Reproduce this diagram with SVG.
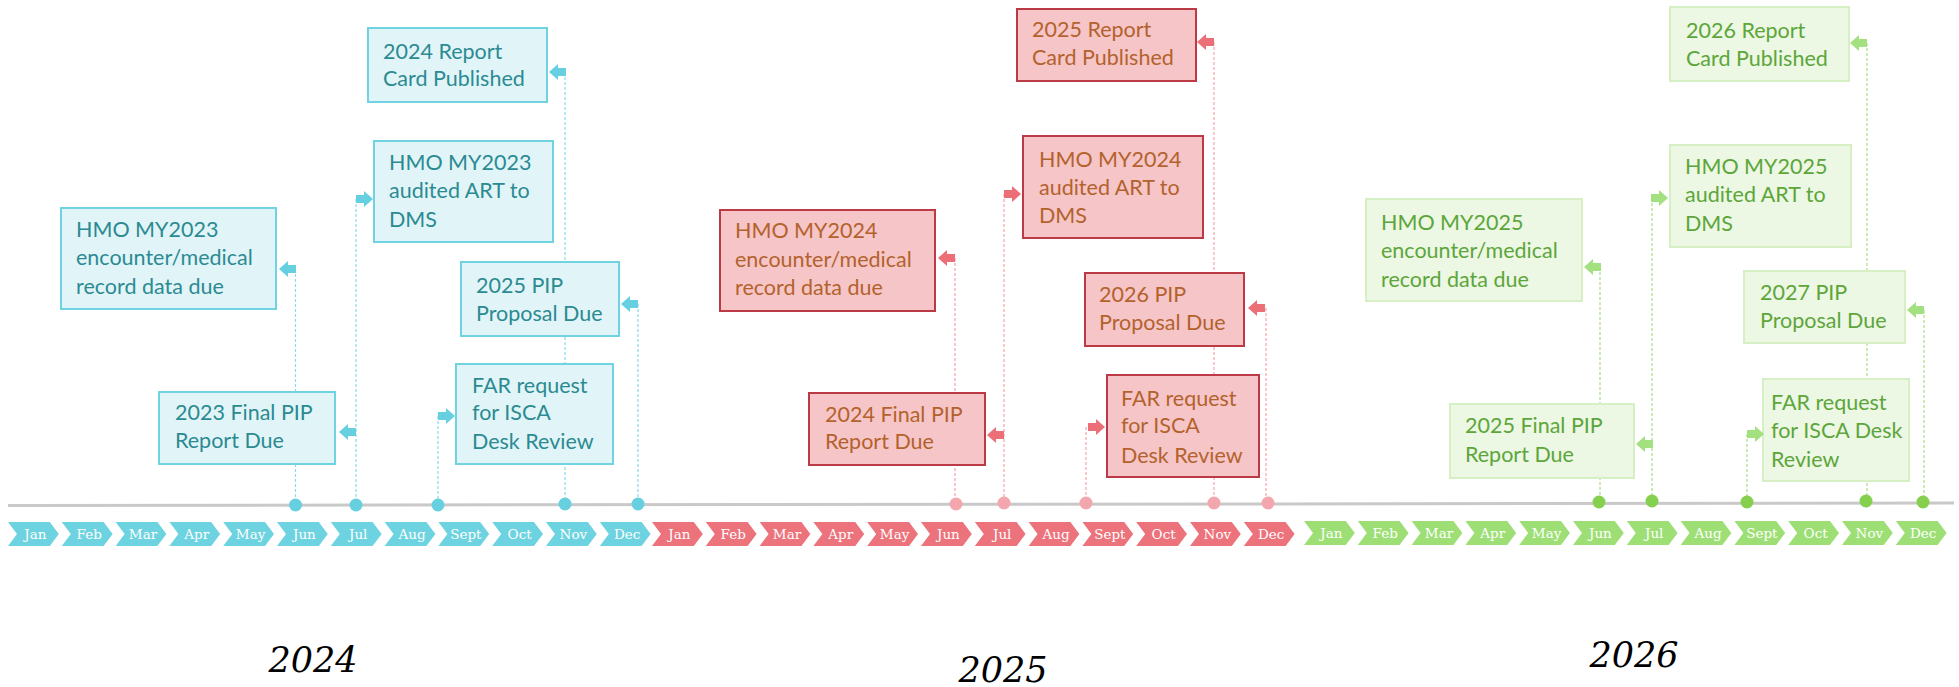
<svg xmlns="http://www.w3.org/2000/svg" xmlns:xlink="http://www.w3.org/1999/xlink" width="1959" height="687" viewBox="0 0 1959 687">
<style>
.bx text{font-family:Lato,"Open Sans","Liberation Sans",sans-serif;font-size:21.5px}
.t rect{fill:#e1f5f8;stroke:#6fd3e1;stroke-width:2}
.t text{fill:#2b8a92}
.r rect{fill:#f6c5c8;stroke:#bb3a45;stroke-width:2}
.r text{fill:#b3622c}
.g rect{fill:#ecf7e4;stroke:#d6efc5;stroke-width:2}
.g text{fill:#5ca63a}
.dl{stroke-width:1.2;stroke-dasharray:3 2;fill:none}
.dT{stroke:#8adbe6}.dR{stroke:#f2a3ab}.dG{stroke:#a8dc86}
.aT{fill:#66d0e0}.aR{fill:#ec6f78}.aG{fill:#a3e07f}
.cT{fill:#6dd3e0}.cR{fill:#ec737b}.cG{fill:#9ddf75}
.oT{fill:#66d0e0}.oR{fill:#f3a6ad}.oG{fill:#86d04f}
.mo{font-family:"DejaVu Serif","Liberation Serif",serif;font-size:13.5px;fill:#fff;text-anchor:middle}
.yr{font-family:"DejaVu Serif","Liberation Serif",serif;font-style:italic;font-size:35px;fill:#000;text-anchor:middle}
</style>
<defs>
<path id="arL" d="M0,0 L9,-8 L9,-4 L17,-4 L17,4 L9,4 L9,8 Z"/>
<path id="arR" d="M0,0 L-9,-8 L-9,-4 L-17,-4 L-17,4 L-9,4 L-9,8 Z"/>
<polygon id="chev" points="0,0 41.8,0 50.8,12 41.8,24 0,24 9,12"/>
</defs>

<g id="connectors">
  <line class="dl dT" x1="295.5" y1="269" x2="295.5" y2="505"/>
  <line class="dl dT" x1="356" y1="199" x2="356" y2="505"/>
  <line class="dl dT" x1="438" y1="416" x2="438" y2="505"/>
  <line class="dl dT" x1="565" y1="72" x2="565" y2="505"/>
  <line class="dl dT" x1="638" y1="304" x2="638" y2="505"/>
  <line class="dl dR" x1="955" y1="258" x2="955" y2="504"/>
  <line class="dl dR" x1="1004" y1="194" x2="1004" y2="504"/>
  <line class="dl dR" x1="1086" y1="427" x2="1086" y2="504"/>
  <line class="dl dR" x1="1214" y1="42" x2="1214" y2="504"/>
  <line class="dl dR" x1="1266" y1="308" x2="1266" y2="504"/>
  <line class="dl dG" x1="1600" y1="267" x2="1600" y2="503"/>
  <line class="dl dG" x1="1652" y1="198" x2="1652" y2="503"/>
  <line class="dl dG" x1="1747" y1="434" x2="1747" y2="503"/>
  <line class="dl dG" x1="1867" y1="43" x2="1867" y2="503"/>
  <line class="dl dG" x1="1924" y1="310" x2="1924" y2="503"/>
</g>

<g id="timeline">
  <line x1="8" y1="505.5" x2="1954" y2="503" stroke="#c9c9c9" stroke-width="3"/>
</g>

<g id="n2024-enc" class="bx t"><rect x="61" y="208" width="215" height="101"/><text x="76" y="237">HMO MY2023</text><text x="76" y="265">encounter/medical</text><text x="76" y="294">record data due</text></g>
<g id="n2024-report" class="bx t"><rect x="368" y="28" width="179" height="74"/><text x="383" y="59">2024 Report</text><text x="383" y="86">Card Published</text></g>
<g id="n2024-art" class="bx t"><rect x="374" y="141" width="179" height="101"/><text x="389" y="170">HMO MY2023</text><text x="389" y="198">audited ART to</text><text x="389" y="227">DMS</text></g>
<g id="n2024-pip" class="bx t"><rect x="461" y="262" width="158" height="74"/><text x="476" y="293">2025 PIP</text><text x="476" y="321">Proposal Due</text></g>
<g id="n2024-final" class="bx t"><rect x="159" y="392" width="176" height="72"/><text x="175" y="420">2023 Final PIP</text><text x="175" y="448">Report Due</text></g>
<g id="n2024-far" class="bx t"><rect x="456" y="364" width="157" height="100"/><text x="472" y="393">FAR request</text><text x="472" y="420">for ISCA</text><text x="472" y="449">Desk Review</text></g>

<g id="n2025-report" class="bx r"><rect x="1017" y="9" width="179" height="72"/><text x="1032" y="37">2025 Report</text><text x="1032" y="65">Card Published</text></g>
<g id="n2025-art" class="bx r"><rect x="1023" y="136" width="180" height="102"/><text x="1039" y="167">HMO MY2024</text><text x="1039" y="195">audited ART to</text><text x="1039" y="223">DMS</text></g>
<g id="n2025-enc" class="bx r"><rect x="720" y="210" width="215" height="101"/><text x="735" y="238">HMO MY2024</text><text x="735" y="267">encounter/medical</text><text x="735" y="295">record data due</text></g>
<g id="n2025-pip" class="bx r"><rect x="1085" y="273" width="159" height="73"/><text x="1099" y="302">2026 PIP</text><text x="1099" y="330">Proposal Due</text></g>
<g id="n2025-final" class="bx r"><rect x="809" y="393" width="176" height="72"/><text x="825" y="422">2024 Final PIP</text><text x="825" y="449">Report Due</text></g>
<g id="n2025-far" class="bx r"><rect x="1107" y="375" width="152" height="102"/><text x="1121" y="406">FAR request</text><text x="1121" y="433">for ISCA</text><text x="1121" y="463">Desk Review</text></g>

<g id="n2026-report" class="bx g"><rect x="1670" y="7" width="179" height="74"/><text x="1686" y="38">2026 Report</text><text x="1686" y="66">Card Published</text></g>
<g id="n2026-art" class="bx g"><rect x="1670" y="145" width="181" height="102"/><text x="1685" y="174">HMO MY2025</text><text x="1685" y="202">audited ART to</text><text x="1685" y="231">DMS</text></g>
<g id="n2026-enc" class="bx g"><rect x="1366" y="199" width="216" height="102"/><text x="1381" y="230">HMO MY2025</text><text x="1381" y="258">encounter/medical</text><text x="1381" y="287">record data due</text></g>
<g id="n2026-pip" class="bx g"><rect x="1744" y="271" width="161" height="72"/><text x="1760" y="300">2027 PIP</text><text x="1760" y="328">Proposal Due</text></g>
<g id="n2026-final" class="bx g"><rect x="1450" y="404" width="184" height="74"/><text x="1465" y="433">2025 Final PIP</text><text x="1465" y="462">Report Due</text></g>
<g id="n2026-far" class="bx g"><rect x="1763" y="379" width="146" height="102"/><text x="1771" y="410">FAR request</text><text x="1771" y="438">for ISCA Desk</text><text x="1771" y="467">Review</text></g>

<g id="arrows">
  <use xlink:href="#arL" href="#arL" x="279" y="269" class="aT"/>
  <use xlink:href="#arR" href="#arR" x="373" y="199" class="aT"/>
  <use xlink:href="#arR" href="#arR" x="455" y="416" class="aT"/>
  <use xlink:href="#arL" href="#arL" x="549" y="72" class="aT"/>
  <use xlink:href="#arL" href="#arL" x="621" y="304" class="aT"/>
  <use xlink:href="#arL" href="#arL" x="339" y="432" class="aT"/>
  <use xlink:href="#arL" href="#arL" x="938" y="258" class="aR"/>
  <use xlink:href="#arR" href="#arR" x="1021" y="194" class="aR"/>
  <use xlink:href="#arR" href="#arR" x="1105" y="427" class="aR"/>
  <use xlink:href="#arL" href="#arL" x="1197" y="42" class="aR"/>
  <use xlink:href="#arL" href="#arL" x="1248" y="308" class="aR"/>
  <use xlink:href="#arL" href="#arL" x="987" y="435" class="aR"/>
  <use xlink:href="#arL" href="#arL" x="1584" y="267" class="aG"/>
  <use xlink:href="#arR" href="#arR" x="1668" y="198" class="aG"/>
  <use xlink:href="#arR" href="#arR" x="1764" y="434" class="aG"/>
  <use xlink:href="#arL" href="#arL" x="1850" y="43" class="aG"/>
  <use xlink:href="#arL" href="#arL" x="1907" y="310" class="aG"/>
  <use xlink:href="#arL" href="#arL" x="1636" y="444" class="aG"/>
</g>

<g id="dots">
  <circle cx="295.5" cy="505" r="6.5" class="oT"/><circle cx="356" cy="505" r="6.5" class="oT"/><circle cx="438" cy="505" r="6.5" class="oT"/><circle cx="565" cy="504" r="6.5" class="oT"/><circle cx="638" cy="504" r="6.5" class="oT"/>
  <circle cx="956" cy="504" r="6.5" class="oR"/><circle cx="1004" cy="503" r="6.5" class="oR"/><circle cx="1086" cy="503" r="6.5" class="oR"/><circle cx="1214" cy="503" r="6.5" class="oR"/><circle cx="1268" cy="503" r="6.5" class="oR"/>
  <circle cx="1599" cy="502" r="6.5" class="oG"/><circle cx="1652" cy="501" r="6.5" class="oG"/><circle cx="1747" cy="502" r="6.5" class="oG"/><circle cx="1866" cy="501" r="6.5" class="oG"/><circle cx="1923" cy="502" r="6.5" class="oG"/>
</g>

<g id="months-2024">
  <use href="#chev" x="8" y="522" class="cT"/><use href="#chev" x="61.8" y="522" class="cT"/><use href="#chev" x="115.6" y="522" class="cT"/><use href="#chev" x="169.4" y="522" class="cT"/><use href="#chev" x="223.2" y="522" class="cT"/><use href="#chev" x="277" y="522" class="cT"/><use href="#chev" x="330.8" y="522" class="cT"/><use href="#chev" x="384.6" y="522" class="cT"/><use href="#chev" x="438.4" y="522" class="cT"/><use href="#chev" x="492.2" y="522" class="cT"/><use href="#chev" x="546" y="522" class="cT"/><use href="#chev" x="599.8" y="522" class="cT"/>
  <text class="mo" x="35.4" y="539">Jan</text><text class="mo" x="89.2" y="539">Feb</text><text class="mo" x="143" y="539">Mar</text><text class="mo" x="196.8" y="539">Apr</text><text class="mo" x="250.6" y="539">May</text><text class="mo" x="304.4" y="539">Jun</text><text class="mo" x="358.2" y="539">Jul</text><text class="mo" x="412" y="539">Aug</text><text class="mo" x="465.8" y="539">Sept</text><text class="mo" x="519.6" y="539">Oct</text><text class="mo" x="573.4" y="539">Nov</text><text class="mo" x="627.2" y="539">Dec</text>
</g>
<g id="months-2025">
  <use href="#chev" x="652" y="522" class="cR"/><use href="#chev" x="705.8" y="522" class="cR"/><use href="#chev" x="759.6" y="522" class="cR"/><use href="#chev" x="813.4" y="522" class="cR"/><use href="#chev" x="867.2" y="522" class="cR"/><use href="#chev" x="921" y="522" class="cR"/><use href="#chev" x="974.8" y="522" class="cR"/><use href="#chev" x="1028.6" y="522" class="cR"/><use href="#chev" x="1082.4" y="522" class="cR"/><use href="#chev" x="1136.2" y="522" class="cR"/><use href="#chev" x="1190" y="522" class="cR"/><use href="#chev" x="1243.8" y="522" class="cR"/>
  <text class="mo" x="679.4" y="539">Jan</text><text class="mo" x="733.2" y="539">Feb</text><text class="mo" x="787" y="539">Mar</text><text class="mo" x="840.8" y="539">Apr</text><text class="mo" x="894.6" y="539">May</text><text class="mo" x="948.4" y="539">Jun</text><text class="mo" x="1002.2" y="539">Jul</text><text class="mo" x="1056" y="539">Aug</text><text class="mo" x="1109.8" y="539">Sept</text><text class="mo" x="1163.6" y="539">Oct</text><text class="mo" x="1217.4" y="539">Nov</text><text class="mo" x="1271.2" y="539">Dec</text>
</g>
<g id="months-2026">
  <use href="#chev" x="1304" y="521" class="cG"/><use href="#chev" x="1357.8" y="521" class="cG"/><use href="#chev" x="1411.6" y="521" class="cG"/><use href="#chev" x="1465.4" y="521" class="cG"/><use href="#chev" x="1519.2" y="521" class="cG"/><use href="#chev" x="1573" y="521" class="cG"/><use href="#chev" x="1626.8" y="521" class="cG"/><use href="#chev" x="1680.6" y="521" class="cG"/><use href="#chev" x="1734.4" y="521" class="cG"/><use href="#chev" x="1788.2" y="521" class="cG"/><use href="#chev" x="1842" y="521" class="cG"/><use href="#chev" x="1895.8" y="521" class="cG"/>
  <text class="mo" x="1331.4" y="538">Jan</text><text class="mo" x="1385.2" y="538">Feb</text><text class="mo" x="1439" y="538">Mar</text><text class="mo" x="1492.8" y="538">Apr</text><text class="mo" x="1546.6" y="538">May</text><text class="mo" x="1600.4" y="538">Jun</text><text class="mo" x="1654.2" y="538">Jul</text><text class="mo" x="1708" y="538">Aug</text><text class="mo" x="1761.8" y="538">Sept</text><text class="mo" x="1815.6" y="538">Oct</text><text class="mo" x="1869.4" y="538">Nov</text><text class="mo" x="1923.2" y="538">Dec</text>
</g>

<g id="years">
  <text class="yr" x="313" y="672">2024</text>
  <text class="yr" x="1003" y="682">2025</text>
  <text class="yr" x="1634" y="667">2026</text>
</g>
</svg>
